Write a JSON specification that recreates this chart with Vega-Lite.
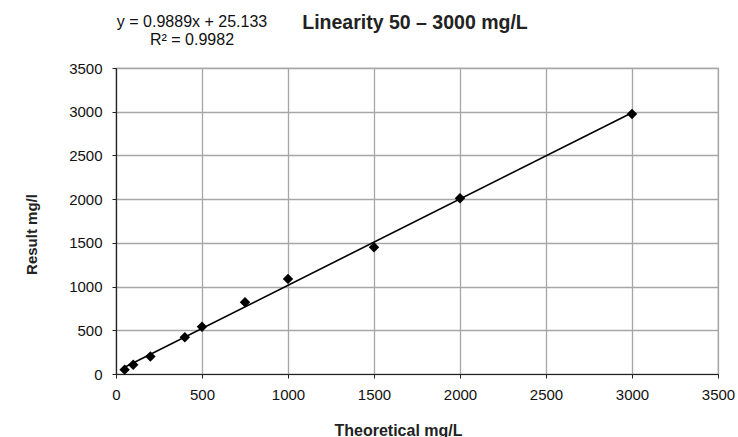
{
  "$schema": "https://vega.github.io/schema/vega-lite/v6.json",
  "autosize": {"type": "none"},
  "width": 602,
  "height": 306,
  "padding": {"left": 116, "top": 68, "right": 20, "bottom": 63},
  "background": "white",
  "title": {
    "text": "Linearity 50 – 3000 mg/L",
    "font": "Liberation Sans",
    "fontSize": 19.5,
    "fontWeight": "bold",
    "color": "#222222",
    "anchor": "middle",
    "frame": "group",
    "dx": -2,
    "offset": -20
  },
  "config": {
    "view": {"stroke": "#a0a0a0", "strokeWidth": 1.2},
    "axis": {
      "labelFont": "Liberation Sans",
      "labelFontSize": 15,
      "labelColor": "#111111",
      "titleFont": "Liberation Sans",
      "titleFontWeight": "bold",
      "titleColor": "#222222",
      "domainColor": "#222222",
      "domainWidth": 1.2,
      "tickColor": "#222222",
      "tickSize": 4,
      "gridColor": "#a6a6a6",
      "gridWidth": 1.3,
      "grid": true,
      "format": "d"
    }
  },
  "layer": [
    {
      "data": {"name": "points"},
      "transform": [{"regression": "result", "on": "theoretical", "extent": [50, 3000]}],
      "mark": {"type": "line", "color": "#000000", "strokeWidth": 1.6},
      "encoding": {
        "x": {
          "field": "theoretical",
          "type": "quantitative",
          "scale": {"domain": [0, 3500], "nice": false, "zero": true},
          "axis": {
            "title": "Theoretical mg/L",
            "values": [0, 500, 1000, 1500, 2000, 2500, 3000, 3500],
            "labelPadding": 9,
            "titleFontSize": 16,
            "titleX": 282,
            "titleY": 48,
            "labelFlush": false
          }
        },
        "y": {
          "field": "result",
          "type": "quantitative",
          "scale": {"domain": [0, 3500], "nice": false, "zero": true},
          "axis": {
            "title": "Result mg/l",
            "values": [0, 500, 1000, 1500, 2000, 2500, 3000, 3500],
            "labelPadding": 10,
            "titleFontSize": 15,
            "titleX": -77,
            "titleY": 166,
            "labelFlush": false
          }
        }
      }
    },
    {
      "data": {"name": "points"},
      "mark": {"type": "point", "shape": "diamond", "filled": true, "color": "#000000", "opacity": 1, "size": 110},
      "encoding": {
        "x": {"field": "theoretical", "type": "quantitative"},
        "y": {"field": "result", "type": "quantitative"}
      }
    },
    {
      "data": {"name": "notes"},
      "mark": {
        "type": "text",
        "font": "Liberation Sans",
        "fontSize": 16,
        "color": "#111111",
        "align": "center",
        "baseline": "alphabetic",
        "clip": false
      },
      "encoding": {
        "text": {"field": "label", "type": "nominal"},
        "x": {"field": "nx", "type": "quantitative"},
        "y": {"field": "ny", "type": "quantitative"}
      }
    }
  ],
  "datasets": {
    "points": [
      {"theoretical": 50, "result": 50},
      {"theoretical": 100, "result": 105},
      {"theoretical": 200, "result": 200},
      {"theoretical": 400, "result": 420},
      {"theoretical": 500, "result": 540},
      {"theoretical": 750, "result": 820},
      {"theoretical": 1000, "result": 1088},
      {"theoretical": 1500, "result": 1450},
      {"theoretical": 2000, "result": 2010},
      {"theoretical": 3000, "result": 2975}
    ],
    "notes": [
      {"label": "y = 0.9889x + 25.133", "nx": 442, "ny": 3972},
      {"label": "R² = 0.9982", "nx": 442, "ny": 3763}
    ]
  }
}
